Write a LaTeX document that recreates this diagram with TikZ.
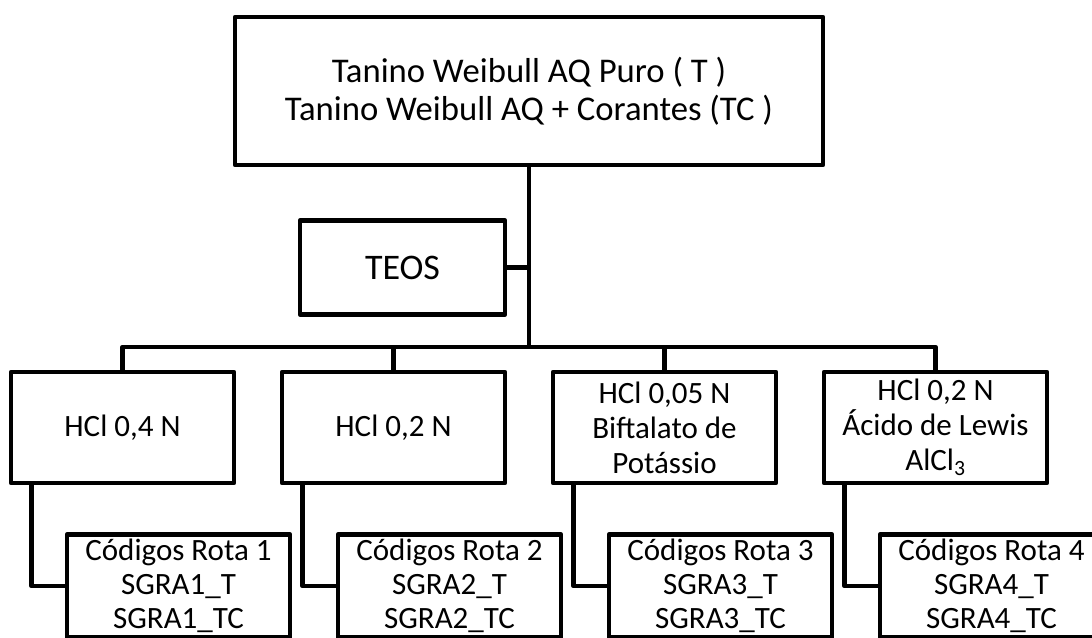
\documentclass[tikz,border=0pt]{standalone}
\usepackage{fontspec}
\setmainfont{Carlito}
\usetikzlibrary{positioning, calc}

\begin{document}
\begin{tikzpicture}[
  x=0.75pt, y=-0.75pt,
  box/.style={draw, line width=3.4pt, line join=round, align=center,
              inner sep=2pt, font=\fontsize{23.25pt}{26.25pt}\selectfont},
  srcbox/.style={box, minimum width=441pt, minimum height=111pt,
                 font=\fontsize{26pt}{28.5pt}\selectfont},
  addbox/.style={box, minimum width=153.75pt, minimum height=70.5pt,
                 font=\fontsize{27pt}{30pt}\selectfont},
  acidbox/.style={box, minimum width=167.25pt, minimum height=83.25pt},
  codebox/.style={box, minimum width=167.25pt, inner ysep=3.5pt,
                  anchor=north west,
                  font=\fontsize{23.25pt}{25.5pt}\selectfont},
  link/.style={line width=3.4pt, line join=round},
]
\clip (0,0) rectangle (1092,637);

% Source and additive
\node[srcbox] (src) at (529,91)
  {Tanino Weibull AQ Puro ( T )\\Tanino Weibull AQ + Corantes (TC )};
\node[addbox] (teos) at (402.5,267.5) {TEOS};
\coordinate (split) at (529,347);

% Acid routes
\node[acidbox] (h1) at (122.5,427.5) {HCl 0,4 N};
\node[acidbox] (h2) at (393.5,427.5) {HCl 0,2 N};
\node[acidbox] (h3) at (664.5,427.5) {HCl 0,05 N\\Biftalato de\\Potássio};
\node[acidbox] (h4) at (935.5,427.5) {HCl 0,2 N\\Ácido de Lewis\\AlCl\textsubscript{3}};

% Sample codes
\node[codebox] (c1) at ($(h1.south west)+(56,47)$)
  {Códigos Rota 1\\SGRA1\_T\\SGRA1\_TC};
\node[codebox] (c2) at ($(h2.south west)+(56,47)$)
  {Códigos Rota 2\\SGRA2\_T\\SGRA2\_TC};
\node[codebox] (c3) at ($(h3.south west)+(56,47)$)
  {Códigos Rota 3\\SGRA3\_T\\SGRA3\_TC};
\node[codebox] (c4) at ($(h4.south west)+(56,47)$)
  {Códigos Rota 4\\SGRA4\_T\\SGRA4\_TC};

% Tree lines
\draw[link] (src.south) -- (split);
\draw[link] (teos.east) -- (teos.east -| split);
\draw[link] (h1.north) |- (split) -| (h4.north);
\draw[link] (h2.north) -- (h2.north |- split);
\draw[link] (h3.north) -- (h3.north |- split);

\draw[link] ($(h1.south west)+(23,0)$) |- (c1.west);
\draw[link] ($(h2.south west)+(23,0)$) |- (c2.west);
\draw[link] ($(h3.south west)+(23,0)$) |- (c3.west);
\draw[link] ($(h4.south west)+(23,0)$) |- (c4.west);
\end{tikzpicture}
\end{document}
